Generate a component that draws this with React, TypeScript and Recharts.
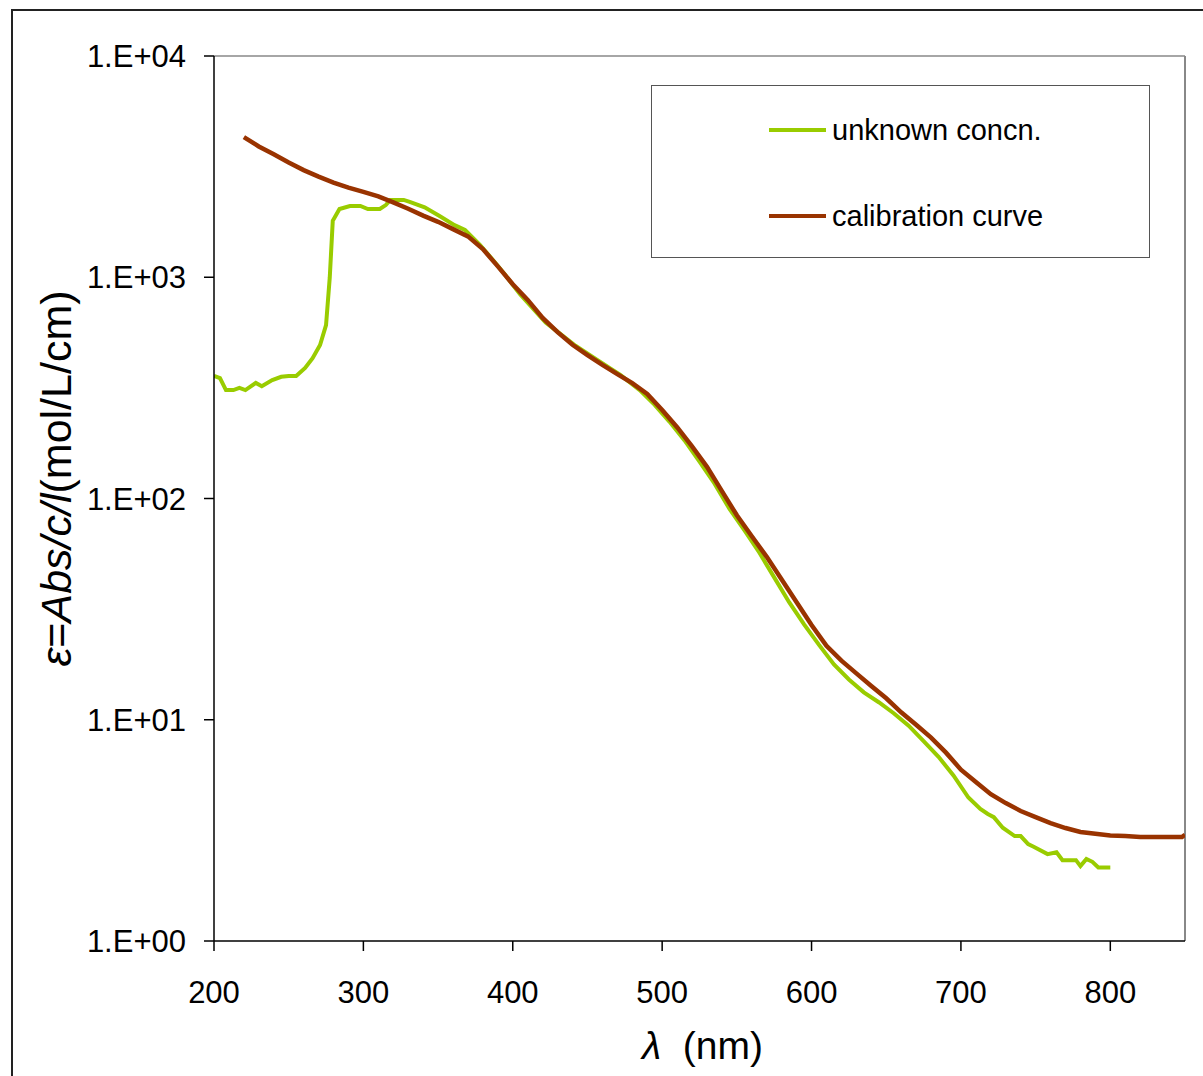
import React from 'react';
import { LineChart, Line, XAxis, YAxis, Legend, ReferenceLine, Label } from 'recharts';

// ---- data ----
const unknownWavelength = [
  200, 204, 208, 213, 217, 221, 228, 232, 239, 245, 250, 255, 261, 266, 271, 275, 277.5, 279.5,
  284, 291, 298, 303, 311, 315, 318, 327, 331, 341, 351, 361, 368, 378, 388, 395, 405, 422, 442,
  455, 465, 472, 485, 495, 505, 515, 525, 535, 545, 555, 565, 575, 585, 595, 605, 615, 625, 635,
  645, 655, 665, 675, 685, 695, 705, 713, 718, 722, 728, 736, 740, 745, 749, 758, 764, 768, 777,
  780, 784, 788, 792, 800,
];
const unknownEpsilon = [
  358, 350, 309, 309, 316, 309, 333, 322, 343, 355, 358, 358, 389, 431, 494, 608, 1000, 1800,
  2035, 2100, 2100, 2035, 2035, 2120, 2235, 2235, 2190, 2070, 1890, 1720, 1635, 1400, 1170, 1023, 835, 625, 490,
  430, 388, 362, 309, 265, 222, 183, 147, 117, 90, 72, 57, 44, 34, 27, 21.8, 17.8, 15.2, 13.3,
  12.0, 10.7, 9.4, 8.0, 6.8, 5.6, 4.45, 3.95, 3.75, 3.63, 3.25, 2.98, 2.98, 2.74, 2.66, 2.47, 2.52, 2.32, 2.32,
  2.18, 2.35, 2.28, 2.15, 2.15,
];

const calibrationWavelength = [
  220, 230, 240, 250, 260, 270, 280, 290, 300, 310, 320, 330, 340, 350, 360, 370, 380, 390, 400,
  410, 420, 430, 440, 450, 460, 470, 480, 490, 500, 510, 520, 530, 540, 550, 560, 570, 580, 590,
  600, 610, 620, 630, 640, 650, 660, 670, 680, 690, 700, 710, 720, 730, 740, 750, 760, 770, 780,
  790, 800, 810, 820, 830, 840, 848, 850,
];
const calibrationEpsilon = [
  4300, 3900, 3600, 3300, 3050, 2850, 2680, 2540, 2430, 2320, 2180, 2040, 1900, 1780, 1650, 1530, 1340, 1120, 930,
  790, 655, 565, 495, 445, 402, 365, 332, 297, 251, 210, 172, 139, 108, 84, 67.5, 54.5, 43, 34,
  26.8, 21.6, 18.5, 16.2, 14.2, 12.5, 10.8, 9.5, 8.3, 7.1, 5.95, 5.23, 4.61, 4.2, 3.87, 3.63, 3.41, 3.24, 3.11,
  3.05, 3.0, 2.98, 2.95, 2.95, 2.95, 2.95, 3.02,
];

const xTicks = [200, 300, 400, 500, 600, 700, 800];
const yTicks = [1, 10, 100, 1000, 10000];
const yTickLabels = ['1.E+00', '1.E+01', '1.E+02', '1.E+03', '1.E+04'];
const seriesNames = ['unknown concn.', 'calibration curve'];
const seriesColors = ['#99CC00', '#993300'];

const unknownData = unknownWavelength.map((x, i) => ({ x, y: unknownEpsilon[i] }));
const calibrationData = calibrationWavelength.map((x, i) => ({ x, y: calibrationEpsilon[i] }));

const FONT = '"Liberation Sans", Arial, sans-serif';

const YLabel = (props: any) => {
  const vb = props.viewBox || { x: 0, y: 0, width: 0, height: 0 };
  const cx = vb.x + 2;
  const cy = vb.y + vb.height / 2 - 20;
  return (
    <text
      x={cx}
      y={cy}
      transform={`rotate(-90, ${cx}, ${cy})`}
      textAnchor="middle"
      dominantBaseline="central"
      fontSize={43}
      fontFamily={FONT}
      fill="#000"
    >
      <tspan fontStyle="italic">ε</tspan>
      <tspan>=</tspan>
      <tspan fontStyle="italic">Abs/c/l</tspan>
      <tspan>(mol/L/cm)</tspan>
    </text>
  );
};

const XLabel = (props: any) => {
  const vb = props.viewBox || { x: 0, y: 0, width: 0, height: 0 };
  const cx = vb.x + vb.width / 2 + 3;
  const cy = vb.y + 104;
  return (
    <text x={cx} y={cy} textAnchor="middle" dominantBaseline="central" fontSize={39} fontFamily={FONT} fill="#000">
      <tspan fontStyle="italic">λ</tspan>
      <tspan>{'\u00A0\u00A0(nm)'}</tspan>
    </text>
  );
};

const LegendBox = (props: any) => {
  const payload = [...(props.payload || [])].sort(
    (a: any, b: any) => seriesNames.indexOf(a.value) - seriesNames.indexOf(b.value)
  );
  return (
    <div
      style={{
        width: 499,
        height: 173,
        border: '1px solid #555',
        boxSizing: 'border-box',
        background: '#fff',
        position: 'relative',
        fontFamily: FONT,
        fontSize: 29,
        color: '#000',
      }}
    >
      {payload.map((p: any, i: number) => (
        <div
          key={i}
          style={{
            position: 'absolute',
            left: 117,
            top: (i === 0 ? 44 : 130) - 18,
            height: 36,
            display: 'flex',
            alignItems: 'center',
            whiteSpace: 'nowrap',
          }}
        >
          <div style={{ width: 57, height: 4, background: p.color, marginRight: 6 }} />
          <span>{p.value}</span>
        </div>
      ))}
    </div>
  );
};

export default function App() {
  return (
    <div
      style={{
        position: 'absolute',
        left: 0,
        top: 0,
        width: 1203,
        height: 1076,
        overflow: 'hidden',
        background: '#fff',
      }}
    >
      <div
        style={{
          position: 'absolute',
          left: 11,
          top: 9,
          width: 1300,
          height: 1200,
          border: '2px solid #222',
          boxSizing: 'border-box',
        }}
      />
      <div style={{ position: 'absolute', left: 0, top: 0 }}>
        <LineChart width={1203} height={1076} margin={{ top: 56, right: 18, bottom: 30, left: 54 }}>
          <XAxis
            dataKey="x"
            type="number"
            domain={[200, 850]}
            ticks={xTicks}
            allowDataOverflow
            stroke="#000"
            strokeWidth={1.5}
            tickSize={10}
            tickMargin={30}
            height={105}
            tick={{ fill: '#000', fontSize: 31, fontFamily: FONT }}
            tickLine={{ stroke: '#000', strokeWidth: 1.5 }}
          >
            <Label content={<XLabel />} />
          </XAxis>
          <YAxis
            type="number"
            scale="log"
            domain={[1, 10000]}
            ticks={yTicks}
            allowDataOverflow
            width={160}
            stroke="#000"
            strokeWidth={1.5}
            tickSize={10}
            tickMargin={18}
            tickFormatter={(v: number) => yTickLabels[yTicks.indexOf(v)]}
            tick={{ fill: '#000', fontSize: 31, fontFamily: FONT }}
            tickLine={{ stroke: '#000', strokeWidth: 1.5 }}
          >
            <Label content={<YLabel />} />
          </YAxis>
          <ReferenceLine y={10000} stroke="#888" strokeWidth={1.5} />
          <ReferenceLine x={850} stroke="#888" strokeWidth={2} />
          <Line
            data={unknownData}
            dataKey="y"
            name={seriesNames[0]}
            stroke={seriesColors[0]}
            strokeWidth={4}
            dot={false}
            isAnimationActive={false}
            type="linear"
          />
          <Line
            data={calibrationData}
            dataKey="y"
            name={seriesNames[1]}
            stroke={seriesColors[1]}
            strokeWidth={4.5}
            dot={false}
            isAnimationActive={false}
            type="linear"
          />
          <Legend
            layout="horizontal"
            verticalAlign="middle"
            align="center"
            content={<LegendBox />}
            wrapperStyle={{ position: 'absolute', left: 651, top: 85, width: 499, height: 173 }}
          />
        </LineChart>
      </div>
    </div>
  );
}
